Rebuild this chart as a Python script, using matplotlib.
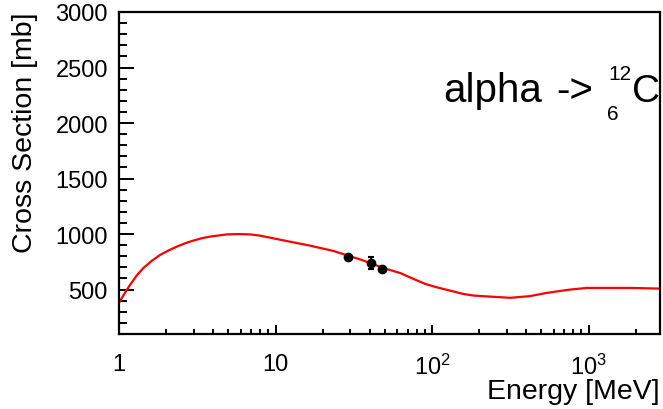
import numpy as np
import matplotlib
matplotlib.use('Agg')
import matplotlib.pyplot as plt

plt.rcParams['font.family'] = ['Liberation Sans', 'DejaVu Sans']
plt.rcParams['mathtext.fontset'] = 'custom'
plt.rcParams['mathtext.rm'] = 'Liberation Sans'
plt.rcParams['mathtext.it'] = 'Liberation Sans'

# model curve, energy in MeV vs cross section in mb
curve_e = [1.0, 1.09, 1.18, 1.30, 1.43, 1.62, 1.83, 2.07, 2.34, 2.64, 2.98,
           3.37, 3.81, 4.88, 5.8, 6.87, 7.95, 9.2, 12.3, 16.6, 23.4, 35, 50,
           62.6, 75.6, 90.4, 107, 130, 158, 184.5, 246, 316, 421, 540,
           760, 975, 1843, 2860]
curve_xs = [381, 470, 545, 628, 694, 759, 812, 852, 887, 917, 941,
            962, 977, 997, 1000, 997, 986, 968, 932, 896, 848, 770, 690,
            649, 598, 551, 521, 491, 461, 446, 435, 426, 441, 470,
            500, 515, 515, 509]

# measured points
data_e = [29, 41, 48]
data_xs = [795, 741, 687]
data_err = [18, 55, 18]

xticks = [1, 10, 100, 1000]
xtick_labels = ['1', '10', r'$10^{2}$', r'$10^{3}$']
yticks = [500, 1000, 1500, 2000, 2500, 3000]

fig = plt.figure(figsize=(6.63, 4.10), dpi=100)
ax = fig.add_axes([119/663, 1 - 335/410, 541/663, 322/410])

ax.plot(curve_e, curve_xs, color='#ff0000', lw=1.6, zorder=2)
ax.errorbar(data_e, data_xs, yerr=data_err, fmt='o', color='black',
            ms=6, capsize=2, elinewidth=1.5, capthick=1.5, zorder=3)

ax.set_xscale('log')
ax.set_xlim(1, 2860)
ax.set_ylim(100, 3000)

ax.set_xticks(xticks)
ax.set_xticklabels(xtick_labels)
ax.set_yticks(yticks)
ax.yaxis.set_minor_locator(matplotlib.ticker.MultipleLocator(100))
ax.xaxis.set_minor_locator(matplotlib.ticker.LogLocator(base=10, subs=np.arange(2, 10)))
ax.xaxis.set_minor_formatter(matplotlib.ticker.NullFormatter())

for s in ax.spines.values():
    s.set_linewidth(1.6)

ax.tick_params(axis='both', which='both', direction='in', top=False, right=False,
               labelsize=17, width=1.4)
ax.tick_params(axis='y', which='major', length=11, pad=8)
ax.tick_params(axis='y', which='minor', length=6)
ax.tick_params(axis='x', which='major', length=6.5, pad=14)
ax.tick_params(axis='x', which='minor', length=3.5)

ax.set_ylabel('Cross Section [mb]', fontsize=20.5, loc='top')
ax.yaxis.set_label_coords(-0.15, 1.0)
ax.set_xlabel('Energy [MeV]', fontsize=20.5, loc='right')
ax.xaxis.set_label_coords(1.0, -0.136)

# reaction label, clipped at the frame
ax.text(0.599, 0.7236, 'alpha', transform=ax.transAxes, fontsize=29,
        va='baseline', ha='left', clip_on=True)
ax.text(0.809, 0.7236, '->', transform=ax.transAxes, fontsize=29,
        va='baseline', ha='left', clip_on=True)
ax.text(0.904, 0.792, '12', transform=ax.transAxes, fontsize=15,
        va='baseline', ha='left', clip_on=True)
ax.text(0.9015, 0.6677, '6', transform=ax.transAxes, fontsize=15,
        va='baseline', ha='left', clip_on=True)
ax.text(0.9477, 0.7236, 'C', transform=ax.transAxes, fontsize=28,
        va='baseline', ha='left', clip_on=True)

plt.savefig('out.png', dpi=100)
